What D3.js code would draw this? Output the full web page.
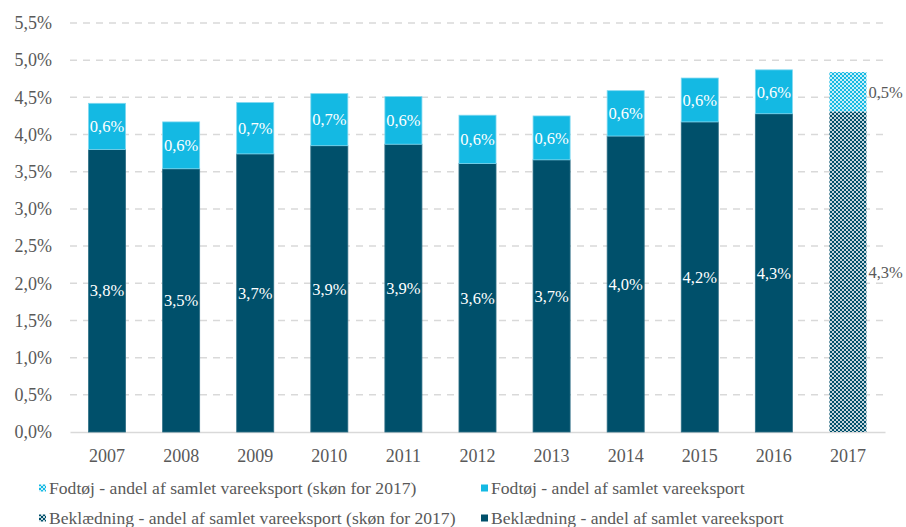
<!DOCTYPE html>
<html>
<head>
<meta charset="utf-8">
<script src="https://cdn.jsdelivr.net/npm/d3@7"></script>
<style>
  body { margin: 0; background: #fff; }
  text { font-family: "Liberation Serif", "DejaVu Serif", serif; }
</style>
</head>
<body>
<svg id="chart"></svg>
<script>
// Data (percent of total goods export)
const years = ["2007", "2008", "2009", "2010", "2011", "2012", "2013", "2014", "2015", "2016", "2017"];
const beklaedning = [3.80, 3.54, 3.74, 3.85, 3.87, 3.61, 3.66, 3.98, 4.17, 4.28, 4.31];
const fodtoej = [0.62, 0.63, 0.69, 0.70, 0.64, 0.65, 0.59, 0.61, 0.59, 0.59, 0.53];
const beklLabels = ["3,8%", "3,5%", "3,7%", "3,9%", "3,9%", "3,6%", "3,7%", "4,0%", "4,2%", "4,3%", "4,3%"];
const fodLabels = ["0,6%", "0,6%", "0,7%", "0,7%", "0,6%", "0,6%", "0,6%", "0,6%", "0,6%", "0,6%", "0,5%"];
const estimateYear = "2017";
const yTicks = [0, 0.5, 1, 1.5, 2, 2.5, 3, 3.5, 4, 4.5, 5, 5.5];
const legendItems = [
  "Fodtøj - andel af samlet vareeksport (skøn for 2017)",
  "Fodtøj - andel af samlet vareeksport",
  "Beklædning - andel af samlet vareeksport (skøn for 2017)",
  "Beklædning - andel af samlet vareeksport"
];

const darkColor = "#00506b",
    lightColor = "#14b9e3",
    gridColor = "#d9d9d9",
    textColor = "#595959";

const W = 906, H = 527;
const margin = {top: 23, right: 21, bottom: 95, left: 70};
const width = W - margin.left - margin.right,
    height = H - margin.top - margin.bottom;

const svg = d3.select("#chart")
    .attr("width", W)
    .attr("height", H);

// checker patterns for the 2017 estimate
const defs = svg.append("defs");
function checker(id, color, bg) {
  const p = defs.append("pattern")
      .attr("id", id)
      .attr("patternUnits", "userSpaceOnUse")
      .attr("width", 4)
      .attr("height", 4);
  p.append("rect").attr("width", 4).attr("height", 4).attr("fill", bg);
  p.append("rect").attr("width", 2).attr("height", 2).attr("fill", color);
  p.append("rect").attr("x", 2).attr("y", 2).attr("width", 2).attr("height", 2).attr("fill", color);
}
checker("checkLight", lightColor, "#c9eef8");
checker("checkDark", darkColor, "#c6d6dc");

const g = svg.append("g")
    .attr("transform", "translate(" + margin.left + "," + margin.top + ")");

const x = d3.scaleBand().domain(years).range([0, width]).paddingInner(0.5).paddingOuter(0.25);
const y = d3.scaleLinear().domain([0, 5.5]).range([height, 0]);

// gridlines
g.append("g")
  .selectAll("line")
  .data(yTicks.filter(d => d > 0))
  .join("line")
    .attr("x1", 0)
    .attr("x2", width)
    .attr("y1", d => y(d))
    .attr("y2", d => y(d))
    .attr("stroke", gridColor)
    .attr("stroke-width", 1.5)
    .attr("stroke-dasharray", "7,6");

// y axis labels
const yAxis = g.append("g")
    .call(d3.axisLeft(y).tickValues(yTicks).tickSize(0).tickPadding(18)
      .tickFormat(d => d3.format(".1f")(d).replace(".", ",") + "%"));
yAxis.select(".domain").remove();
yAxis.selectAll("text")
    .attr("fill", textColor)
    .style("font-size", "18px")
    .style("font-family", '"Liberation Serif", serif');

// x axis
const xAxis = g.append("g")
    .attr("transform", "translate(0," + height + ")")
    .call(d3.axisBottom(x).tickSize(0).tickPadding(17));
xAxis.select(".domain")
    .attr("stroke", gridColor)
    .attr("stroke-width", 1.5);
xAxis.selectAll("text")
    .attr("fill", textColor)
    .style("font-size", "18px")
    .style("font-family", '"Liberation Serif", serif');

const rows = years.map((yr, i) => ({
  year: yr, b: beklaedning[i], f: fodtoej[i],
  bl: beklLabels[i], fl: fodLabels[i], est: yr === estimateYear
}));

// bars
const bars = g.append("g");
bars.selectAll("rect.bekl")
  .data(rows)
  .join("rect")
    .attr("class", "bekl")
    .attr("x", d => x(d.year))
    .attr("width", x.bandwidth())
    .attr("y", d => y(d.b))
    .attr("height", d => y(0) - y(d.b))
    .attr("fill", d => d.est ? "url(#checkDark)" : darkColor)
    .attr("stroke", d => d.est ? "none" : "#2f6f86")
    .attr("stroke-width", 0.8);

bars.selectAll("rect.fod")
  .data(rows)
  .join("rect")
    .attr("class", "fod")
    .attr("x", d => x(d.year))
    .attr("width", x.bandwidth())
    .attr("y", d => y(d.b + d.f))
    .attr("height", d => y(d.b) - y(d.b + d.f))
    .attr("fill", d => d.est ? "url(#checkLight)" : lightColor)
    .attr("stroke", d => d.est ? "none" : "#7fd8f0")
    .attr("stroke-width", 0.8);

// value labels
const labels = g.append("g")
    .style("font-size", "16.5px");
labels.selectAll("text.bl")
  .data(rows)
  .join("text")
    .attr("class", "bl")
    .attr("x", d => d.est ? x(d.year) + x.bandwidth() + 2 : x(d.year) + x.bandwidth() / 2)
    .attr("y", d => (y(d.b) + y(0)) / 2)
    .attr("dy", "0.35em")
    .attr("text-anchor", d => d.est ? "start" : "middle")
    .attr("fill", d => d.est ? textColor : "#fff")
    .text(d => d.bl);

labels.selectAll("text.fl")
  .data(rows)
  .join("text")
    .attr("class", "fl")
    .attr("x", d => d.est ? x(d.year) + x.bandwidth() + 2 : x(d.year) + x.bandwidth() / 2)
    .attr("y", d => (y(d.b) + y(d.b + d.f)) / 2)
    .attr("dy", "0.35em")
    .attr("text-anchor", d => d.est ? "start" : "middle")
    .attr("fill", d => d.est ? textColor : "#fff")
    .text(d => d.fl);

// legend
const legendFills = ["url(#checkLight)", lightColor, "url(#checkDark)", darkColor];
const legend = svg.append("g");
const item = legend.selectAll("g")
  .data(legendItems)
  .join("g")
    .attr("transform", (d, i) => "translate(" + (i % 2 === 0 ? 39 : 481) + "," + (i < 2 ? 488 : 518) + ")");
item.append("rect")
    .attr("x", 0)
    .attr("y", -3.5)
    .attr("width", 7)
    .attr("height", 7)
    .attr("fill", (d, i) => legendFills[i]);
item.append("text")
    .attr("x", 10)
    .attr("dy", "0.35em")
    .attr("fill", textColor)
    .style("font-size", "17.6px")
    .text(d => d);
</script>
</body>
</html>
